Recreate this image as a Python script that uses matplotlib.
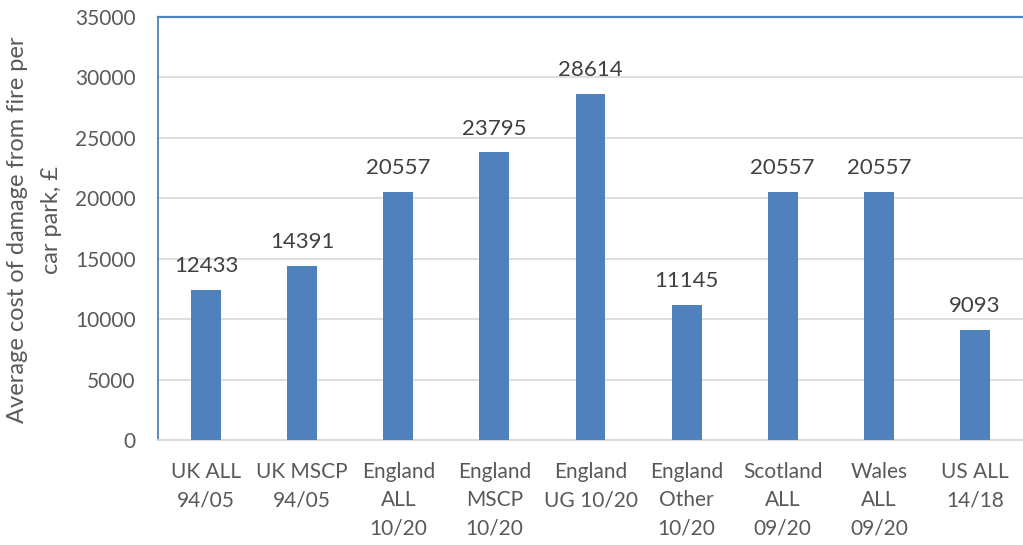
import matplotlib.pyplot as plt
import numpy as np

categories = ['UK ALL\n94/05', 'UK MSCP\n94/05', 'England\nALL\n10/20', 'England\nMSCP\n10/20',
              'England\nUG 10/20', 'England\nOther\n10/20', 'Scotland\nALL\n09/20', 'Wales\nALL\n09/20',
              'US ALL\n14/18']
costs = [12433, 14391, 20557, 23795, 28614, 11145, 20557, 20557, 9093]
ylabel_lines = ['Average cost of damage from fire per', 'car park, £']

plt.rcParams['font.family'] = ['Lato', 'DejaVu Sans']

fig = plt.figure(figsize=(10.23, 5.45), dpi=100)
ax = fig.add_axes([158 / 1023, 105 / 545, 865 / 1023, 423 / 545])

x = np.arange(len(categories))
bars = ax.bar(x, costs, width=0.31, color='#4F81BD', zorder=3)

for xi, v in zip(x, costs):
    ax.text(xi, v + 1150, str(v), ha='center', va='bottom', fontsize=16, color='#404040')

ax.set_xlim(-0.5, len(categories) - 0.5)
ax.set_ylim(0, 35000)
ax.set_yticks(np.arange(0, 35001, 5000))
ax.yaxis.grid(True, color='#D9D9D9', linewidth=1.2, zorder=0)
ax.set_axisbelow(True)

ax.set_xticks(x)
ax.set_xticklabels(categories, fontsize=15, color='#595959', linespacing=1.5, va='top')
ax.tick_params(axis='both', length=0, labelsize=15, labelcolor='#595959')
ax.tick_params(axis='x', pad=16)
ax.tick_params(axis='y', pad=16)

ax.spines['right'].set_visible(False)
ax.spines['left'].set_color('#4F81BD')
ax.spines['left'].set_linewidth(1.3)
ax.spines['top'].set_color('#4F81BD')
ax.spines['top'].set_linewidth(1.6)
ax.spines['bottom'].set_color('#D9D9D9')
ax.spines['bottom'].set_linewidth(1.3)

# y-axis title: one text per line, each centred on about the same height
for xpos, ypos, line in zip([18, 51], [230, 220], ylabel_lines):
    fig.text(xpos / 1023, 1 - ypos / 545, line, rotation=90, ha='center', va='center',
             fontsize=17, color='#595959')

fig.savefig('out.png', dpi=100)
